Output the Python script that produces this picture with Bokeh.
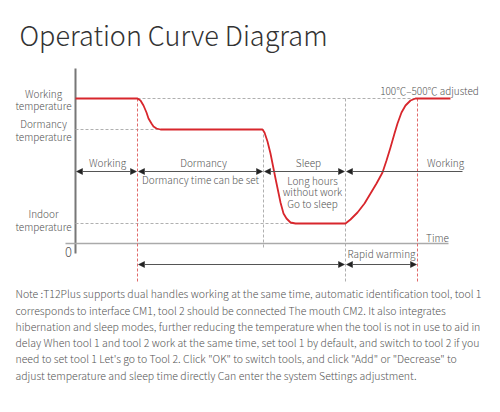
from bokeh.plotting import figure
from bokeh.models import Range1d, Arrow, NormalHead
from bokeh.core.properties import value
from bokeh.embed import file_html
from bokeh.resources import INLINE

# ---- data (time units, temperature units) ----
curve_t = [0, 62, 65, 68, 71, 73, 76, 78, 81, 85, 187, 189, 192, 195, 200, 205, 208, 211, 215, 220,
           270, 275, 282, 289, 295, 301, 307, 311, 315, 319, 322, 326, 330, 335, 340, 375]
curve_temp = [145, 145, 143, 138, 131, 125, 120, 117, 115, 114, 114, 111, 102, 90, 65, 41, 30, 25, 21, 20,
              20, 24, 31, 40, 50, 60, 71, 83, 96, 110, 120, 131, 138, 143, 145, 145]
phase_bounds = [0, 62, 188, 270, 342, 387]
phase_labels = ["Working", "Dormancy", "Sleep", "Working"]
phase_label_t = [32, 128, 233, 370]
level_names = ["Working\ntemperature", "Dormancy\ntemperature", "Indoor\ntemperature"]
level_values = [145, 114, 20]
title = "Operation Curve Diagram"
note_lines = [
    "Note :T12Plus supports dual handles working at the same time, automatic identification tool, tool 1",
    "corresponds to interface CM1, tool 2 should be connected The mouth CM2. It also integrates",
    "hibernation and sleep modes, further reducing the temperature when the tool is not in use to aid in",
    "delay When tool 1 and tool 2 work at the same time, set tool 1 by default, and switch to tool 2 if you",
    "need to set tool 1 Let's go to Tool 2. Click \"OK\" to switch tools, and click \"Add\" or \"Decrease\" to",
    "adjust temperature and sleep time directly Can enter the system Settings adjustment.",
]

LIGHT = value("Noto Sans CJK SC Light")
GRAY_TXT = "#555555"
RED = "#d8262c"
DASH_GRAY = "#b0b0b0"
DASH_RED = "#e06a6a"

p = figure(width=484, height=396, output_backend="svg", toolbar_location=None,
           x_range=Range1d(-75, 409), y_range=Range1d(-153, 243), min_border=0)
p.axis.visible = False
p.grid.visible = False
p.outline_line_color = None
p.background_fill_color = "white"

# title
p.text(x=[-56], y=[209], text=[title], text_font=LIGHT, text_font_size="27px",
       text_color="#333333", text_baseline="middle")

# axes lines
p.line([0, 0], [-10, 175], line_color="#777777", line_width=2)
p.line([-10, 373], [0, 0], line_color="#aaaaaa", line_width=1.5)

# dashed guides
p.line([phase_bounds[1], phase_bounds[4]], [level_values[0]] * 2, line_color=DASH_GRAY, line_dash="3 2")
p.line([0, 85], [level_values[1]] * 2, line_color=DASH_GRAY, line_dash="3 2")
p.line([0, 220], [level_values[2]] * 2, line_color=DASH_GRAY, line_dash="3 2")
p.line([phase_bounds[1]] * 2, [level_values[0], -38], line_color=DASH_RED, line_dash="3 2")
p.line([phase_bounds[2]] * 2, [level_values[1], -5], line_color=DASH_GRAY, line_dash="3 2")
p.line([phase_bounds[3]] * 2, [level_values[0], -38], line_color=DASH_GRAY, line_dash="3 2")
p.line([phase_bounds[4]] * 2, [level_values[0], -38], line_color=DASH_RED, line_dash="3 2")

# curve
p.line(curve_t, curve_temp, line_color=RED, line_width=1.8, line_join="round")

# arrows
def head():
    return NormalHead(size=6, fill_color="#222222", line_color="#222222", line_width=0.5)

row_top = 72
for a, b in zip(phase_bounds[:3], phase_bounds[1:4]):
    p.add_layout(Arrow(x_start=a + 1, y_start=row_top, x_end=b - 1, y_end=row_top,
                       start=head(), end=head(), line_color="#555555", line_width=1))
p.add_layout(Arrow(x_start=phase_bounds[3] + 1, y_start=row_top, x_end=phase_bounds[5], y_end=row_top,
                   start=head(), end=None, line_color="#555555", line_width=1))
row_bot = -21
p.add_layout(Arrow(x_start=phase_bounds[1] + 1, y_start=row_bot, x_end=phase_bounds[3] - 1, y_end=row_bot,
                   start=head(), end=head(), line_color="#555555", line_width=1))
p.add_layout(Arrow(x_start=phase_bounds[3] + 1, y_start=row_bot, x_end=phase_bounds[4] - 1, y_end=row_bot,
                   start=head(), end=head(), line_color="#555555", line_width=1))

txt = dict(text_font=LIGHT, text_font_size="10px", text_color=GRAY_TXT,
           text_align="center", text_baseline="middle")

# phase labels
p.text(x=phase_label_t, y=[81] * 4, text=phase_labels, **txt)
p.text(x=[125], y=[64], text=["Dormancy time can be set"], **txt)
p.text(x=[237, 237, 237], y=[63, 52, 40], text=["Long hours", "without work", "Go to sleep"], **txt)
p.text(x=[306], y=[-10], text=["Rapid warming"], **txt)
p.text(x=[362], y=[6], text=["Time"], **txt)
p.text(x=[354], y=[153], text=["100℃–500℃ adjusted"], **txt)
p.text(x=[-7], y=[-8], text=["0"], text_font=LIGHT, text_font_size="13px", text_color=GRAY_TXT,
       text_align="center", text_baseline="middle")

# level labels
lab_txt = []
for name in level_names:
    lab_txt += name.split("\n")
p.text(x=[-32] * 6, y=[150, 138, 120, 107, 30, 17], text=lab_txt, **txt)

# note
note_y = [-50, -66.5, -82.8, -99, -115.3, -132]
p.text(x=[-60] * len(note_lines), y=note_y, text=note_lines, text_font=LIGHT,
       text_font_size="10.5px", text_color=GRAY_TXT, text_align="left", text_baseline="middle")

open("out.html", "w").write(file_html(p, INLINE))
